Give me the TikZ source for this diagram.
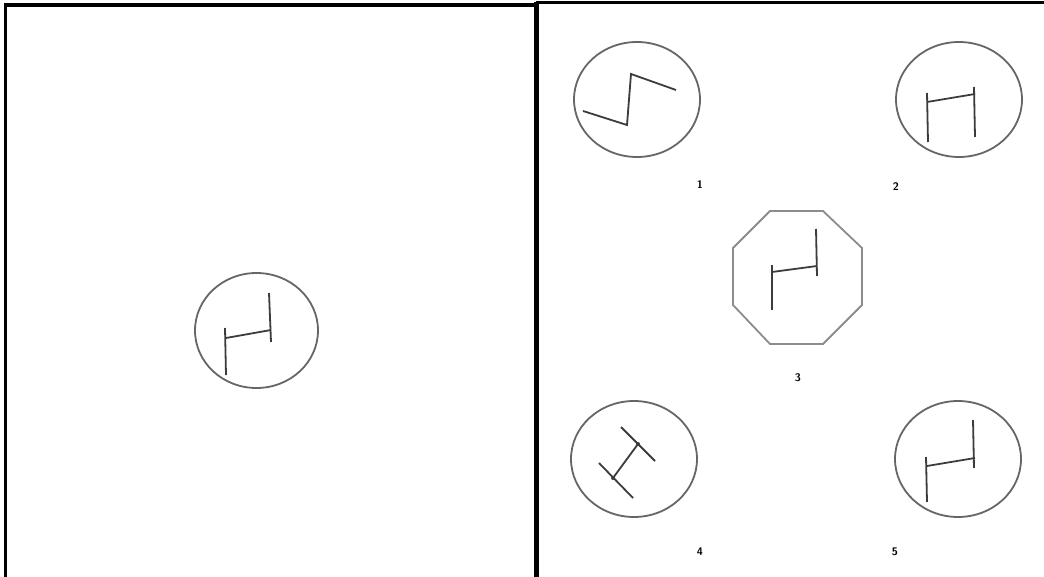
\documentclass[tikz,border=0pt]{standalone}
\usetikzlibrary{shapes.geometric}
\definecolor{ringgray}{HTML}{666666}
\definecolor{glyphgray}{HTML}{3C3C3C}
\definecolor{octgray}{HTML}{8C8C8C}
\begin{document}
\begin{tikzpicture}[x=1pt,y=-1pt,
  frame/.style={line width=3.2pt,black},
  ring/.style={draw=ringgray,line width=1.8pt},
  glyph/.style={draw=glyphgray,line width=1.8pt},
  numlabel/.style={font=\sffamily\bfseries\fontsize{11}{13}\selectfont,text=black,inner sep=0pt}]
\useasboundingbox (0,0) rectangle (1044,577);
\fill[white] (0,0) rectangle (1044,577);
% frames
\draw[frame] (5.5,577) -- (5.5,5) -- (536,5);
\draw[line width=5pt] (536.5,2) -- (536.5,577);
\draw[frame] (536,2.5) -- (1044,2.5);
% left figure
\draw[ring] (256.5,330.5) ellipse [x radius=61.5,y radius=57.5];
\draw[glyph] (225,328) -- (226,375);
\draw[glyph] (226,338) -- (271,330);
\draw[glyph] (269,293) -- (271,342);
% option 1
\draw[ring] (637,99.5) ellipse [x radius=63,y radius=57.5];
\draw[glyph] (583,111) -- (627,125) -- (631,74) -- (676,90);
\node[numlabel] (l1) at (700,185) {1};
% option 2
\draw[ring] (959,99.5) ellipse [x radius=63,y radius=57.5];
\draw[glyph] (927,93) -- (928,142);
\draw[glyph] (927,102) -- (975,94);
\draw[glyph] (974,87) -- (975,137);
\node[numlabel] (l2) at (896,187) {2};
% option 3 (octagon)
\draw[draw=octgray,line width=1.8pt] (770,211) -- (823,211) -- (862,248) -- (862,305) -- (823,344) -- (770,344) -- (733,305) -- (733,248) -- cycle;
\draw[glyph] (772,265) -- (772,310);
\draw[glyph] (772,272) -- (817,266);
\draw[glyph] (816,229) -- (817,276);
\node[numlabel] (l3) at (798,378) {3};
% option 4
\draw[ring] (634,459) ellipse [x radius=63,y radius=58];
\draw[glyph] (621,427) -- (655,461);
\draw[glyph] (599,463) -- (633,498);
\draw[glyph] (638,444) -- (613,478);
\fill[glyphgray] (638,444) circle (2);
\fill[glyphgray] (613,478) circle (2);
\node[numlabel] (l4) at (700,552) {4};
% option 5
\draw[ring] (958,459) ellipse [x radius=63,y radius=58];
\draw[glyph] (926,457) -- (927,502);
\draw[glyph] (927,466) -- (975,458);
\draw[glyph] (973,420) -- (974,468);
\node[numlabel] (l5) at (895,552) {5};
\end{tikzpicture}
\end{document}
